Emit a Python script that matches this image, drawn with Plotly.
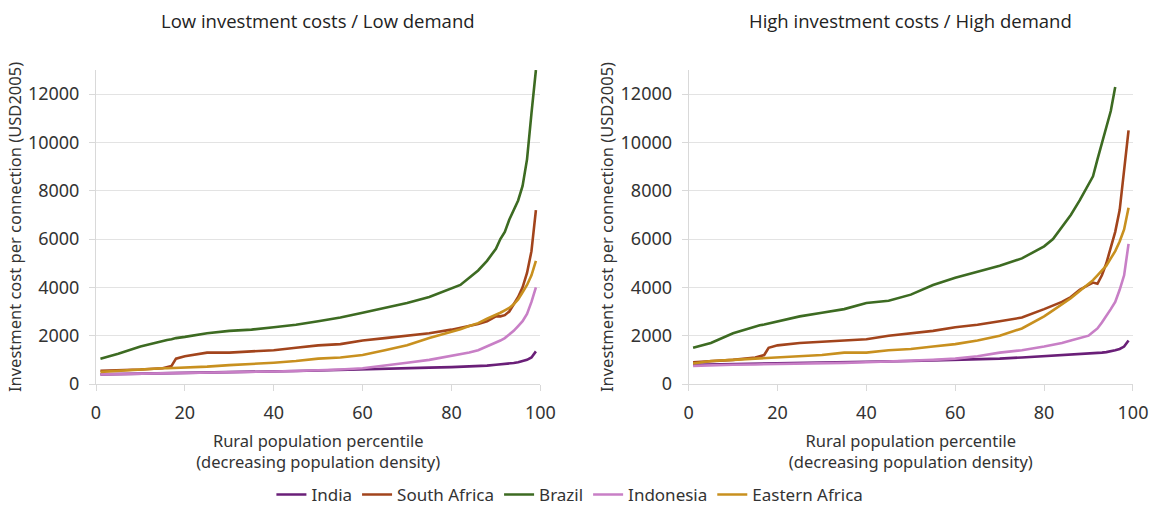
import plotly.graph_objects as go
from plotly.subplots import make_subplots

# Percentile grid (shared)
pct = [1, 5, 10, 15, 16, 17, 18, 20, 25, 30, 35, 40, 45, 50, 55, 60, 65, 70, 75,
       80, 82, 84, 86, 88, 90, 91, 92, 93, 94, 95, 96, 97, 98, 99]

series_names = ["India", "South Africa", "Brazil", "Indonesia", "Eastern Africa"]
series_colors = ["#6a1f78", "#a2441c", "#3d6b22", "#c87fc6", "#c8901f"]

# Low investment costs / Low demand
low_india = [400, 410, 430, 440, 440, 445, 445, 450, 465, 480, 500, 520, 540, 560, 590, 620, 640, 660, 680,
             700, 710, 730, 750, 760, 800, 810, 830, 850, 870, 900, 950, 1000, 1100, 1350]
low_south_africa = [550, 560, 600, 650, 700, 750, 1050, 1150, 1300, 1300, 1350, 1400, 1500, 1600, 1650, 1800, 1900, 2000, 2100,
                    2250, 2320, 2400, 2480, 2600, 2800, 2800, 2850, 3000, 3300, 3600, 4000, 4600, 5500, 7200]
low_brazil = [1050, 1250, 1550, 1800, 1820, 1850, 1900, 1950, 2100, 2200, 2250, 2350, 2450, 2600, 2750, 2950, 3150, 3350, 3600,
              3950, 4100, 4400, 4700, 5100, 5600, 6000, 6300, 6800, 7200, 7600, 8200, 9300, 11200, 13000]
low_indonesia = [400, 410, 420, 430, 435, 440, 445, 450, 465, 480, 500, 520, 540, 560, 600, 650, 750, 880, 1000,
                 1150, 1220, 1300, 1400, 1550, 1700, 1800, 1900, 2050, 2200, 2400, 2600, 2900, 3400, 4000]
low_eastern_africa = [500, 550, 600, 650, 655, 660, 670, 680, 720, 780, 820, 880, 950, 1050, 1100, 1200, 1400, 1600, 1900,
                      2150, 2270, 2400, 2520, 2700, 2850, 2950, 3050, 3150, 3300, 3500, 3800, 4100, 4500, 5100]

# High investment costs / High demand
high_india = [800, 810, 820, 840, 845, 845, 850, 850, 860, 870, 885, 900, 920, 950, 980, 1000, 1030, 1050, 1100,
              1150, 1170, 1190, 1200, 1220, 1250, 1260, 1280, 1300, 1320, 1350, 1400, 1450, 1550, 1800]
high_south_africa = [900, 950, 1000, 1100, 1150, 1200, 1500, 1600, 1700, 1750, 1800, 1850, 2000, 2100, 2200, 2350, 2450, 2600, 2750,
                     3100, 3250, 3400, 3600, 3900, 4100, 4200, 4150, 4500, 5000, 5600, 6300, 7200, 8800, 10500]
high_brazil = [1500, 1700, 2100, 2400, 2430, 2460, 2500, 2600, 2800, 2950, 3100, 3350, 3450, 3700, 4100, 4400, 4650, 4900, 5200,
               5700, 6000, 6500, 7000, 7600, 8300, 8600, 9300, 10000, 10700, 11300, 12300, None, None, None]
high_indonesia = [750, 780, 800, 810, 812, 815, 818, 820, 835, 850, 875, 900, 925, 950, 1000, 1050, 1150, 1300, 1400,
                  1550, 1620, 1700, 1800, 1900, 2000, 2150, 2300, 2550, 2800, 3100, 3400, 3900, 4500, 5800]
high_eastern_africa = [850, 950, 1000, 1050, 1060, 1070, 1080, 1100, 1150, 1200, 1300, 1300, 1400, 1450, 1550, 1650, 1800, 2000, 2300,
                       2800, 3050, 3300, 3550, 3850, 4150, 4300, 4500, 4700, 4900, 5200, 5500, 5900, 6400, 7300]

low_data = [low_india, low_south_africa, low_brazil, low_indonesia, low_eastern_africa]
high_data = [high_india, high_south_africa, high_brazil, high_indonesia, high_eastern_africa]

panel_titles = ["Low investment costs / Low demand", "High investment costs / High demand"]
x_title = "Rural population percentile<br>(decreasing population density)"
y_title = "Investment cost per connection (USD2005)"
x_ticks = [0, 20, 40, 60, 80, 100]
y_ticks = [0, 2000, 4000, 6000, 8000, 10000, 12000]

fig = make_subplots(rows=1, cols=2, horizontal_spacing=0.143)

for col, data in ((1, low_data), (2, high_data)):
    for name, color, ys in zip(series_names, series_colors, data):
        fig.add_trace(go.Scatter(x=pct, y=ys, mode="lines", name=name,
                                 line=dict(color=color, width=2.6),
                                 showlegend=(col == 1)), row=1, col=col)

tick_font = dict(family="Noto Sans", size=18, color="#333333")
for col in (1, 2):
    fig.update_xaxes(range=[0, 100], tickvals=x_ticks, showgrid=False,
                     showline=True, linecolor="#d9d9d9", linewidth=1,
                     ticks="outside", ticklen=6, tickcolor="#d9d9d9",
                     ticklabelstandoff=6, ticklabeloverflow="allow",
                     tickfont=tick_font, zeroline=False, automargin=False,
                     title=dict(text=x_title, font=dict(family="Noto Sans", size=16.5, color="#333333"), standoff=12),
                     row=1, col=col)
    fig.update_yaxes(range=[0, 13000], tickvals=y_ticks, tickformat="d", showgrid=True, gridcolor="#e3e3e3",
                     showline=True, linecolor="#d9d9d9", linewidth=1,
                     ticks="outside", ticklen=6, tickcolor="#d9d9d9",
                     ticklabelstandoff=6, ticklabeloverflow="allow",
                     tickfont=tick_font, zeroline=False, automargin=False,
                     title=dict(text=y_title, font=dict(family="Noto Sans", size=16.5, color="#333333"), standoff=2),
                     row=1, col=col)

fig.update_layout(
    width=1153, height=505,
    margin=dict(l=96, r=20, t=70, b=121, autoexpand=False),
    plot_bgcolor="white", paper_bgcolor="white",
    legend=dict(orientation="h", x=0.457, xanchor="center", y=-0.3535, yanchor="middle",
                font=dict(family="Noto Sans", size=17, color="#333333"),
                itemwidth=30, tracegroupgap=0),
    annotations=[
        dict(text=panel_titles[0], x=0.214, xref="paper", y=1.159, yref="paper",
             showarrow=False, font=dict(family="Open Sans", size=18.5, color="#222222"),
             xanchor="center", yanchor="middle"),
        dict(text=panel_titles[1], x=0.785, xref="paper", y=1.159, yref="paper",
             showarrow=False, font=dict(family="Open Sans", size=18.5, color="#222222"),
             xanchor="center", yanchor="middle"),
    ],
)

# remove the default page margin so the figure fills the window exactly
fig.write_html("out.html", config={"displayModeBar": False},
               post_script="document.body.style.margin='0';")
